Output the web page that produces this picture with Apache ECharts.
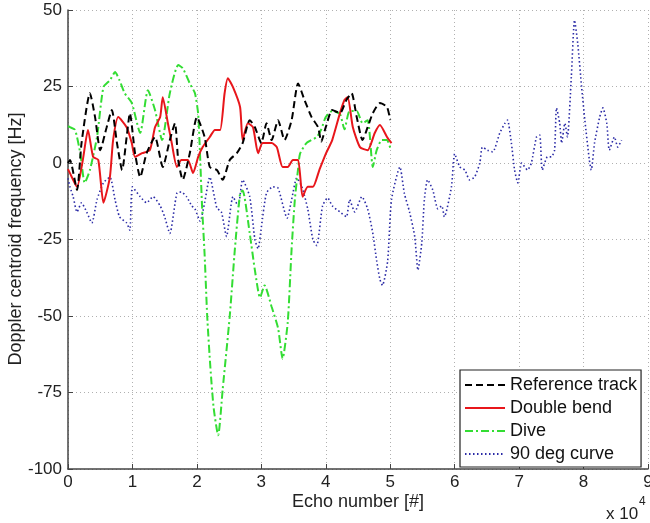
<!DOCTYPE html>
<html>
<head>
<meta charset="utf-8">
<script src="https://cdn.jsdelivr.net/npm/echarts@6/dist/echarts.min.js"></script>
<style>html,body{margin:0;padding:0;background:#fff}#c{width:650px;height:523px}</style>
</head>
<body>
<div id="c"></div>
<script>
// x values in units of 10^4 echoes, y in Hz
var seriesNames = ['Reference track', 'Double bend', 'Dive', '90 deg curve'];
var xTitle = 'Echo number [#]';
var yTitle = 'Doppler centroid frequency [Hz]';

var referenceTrack = [[0,0],[0.03,1],[0.14,-8.8],[0.21,6.5],[0.34,22.8],[0.42,15],[0.5,4.2],[0.6,11.7],[0.68,17.3],[0.76,6.5],[0.84,-2.3],[0.91,8.5],[0.96,16.3],[1.04,3.2],[1.12,-4.6],[1.22,3.2],[1.35,8.5],[1.47,-1.3],[1.58,7.5],[1.66,13],[1.71,1],[1.78,-5.5],[1.89,3.2],[2.0,15],[2.12,8.5],[2.2,-1.3],[2.31,-2.3],[2.4,-5.5],[2.51,1],[2.62,3.2],[2.71,6.5],[2.82,14],[2.9,11.7],[3.0,6.5],[3.08,13],[3.16,7.5],[3.26,14],[3.36,7.5],[3.47,14],[3.57,26],[3.67,20.6],[3.78,15],[3.88,11.7],[3.93,7],[4.0,11.7],[4.1,17.3],[4.22,16.3],[4.32,20.6],[4.4,22.8],[4.48,15],[4.57,7.5],[4.65,11.7],[4.73,16.3],[4.84,19.6],[4.95,18.3],[5.0,14]];

var doubleBend = [[0,-2],[0.03,-3.3],[0.14,-7.8],[0.23,1],[0.31,10.8],[0.39,2],[0.47,1],[0.55,-13],[0.65,-4.6],[0.7,7.5],[0.78,15],[0.91,11.7],[0.99,6.5],[1.04,2],[1.15,3.2],[1.27,4.2],[1.35,11.7],[1.43,15],[1.47,21.5],[1.55,13],[1.61,6.5],[1.69,-1.3],[1.76,1],[1.86,1],[1.94,-3.3],[2.02,2],[2.09,5.2],[2.2,8.5],[2.28,10.8],[2.36,10.8],[2.43,22.8],[2.48,27.7],[2.56,24.8],[2.67,18.3],[2.71,7.5],[2.79,13],[2.87,11.7],[2.95,3.2],[3.02,6.5],[3.16,6.5],[3.24,5.2],[3.33,-1.3],[3.41,-1.3],[3.49,1],[3.57,1],[3.64,-11],[3.72,-7.8],[3.8,-7.8],[3.9,-2.3],[4.0,3],[4.1,7.5],[4.22,16.3],[4.29,20.6],[4.34,21.5],[4.42,11.7],[4.53,5.2],[4.65,4.2],[4.76,9.8],[4.84,12.4],[4.95,8.5],[5.02,6.5]];

var dive = [[0,12],[0.03,11.7],[0.11,10.8],[0.19,3.2],[0.26,-6.5],[0.34,-2.3],[0.45,8.5],[0.55,24.8],[0.65,27],[0.73,29.7],[0.8,27],[0.88,22.8],[0.99,19.6],[1.12,9.8],[1.24,23.8],[1.35,17.3],[1.46,7.5],[1.58,22.8],[1.71,32],[1.78,31],[1.89,26],[1.97,22.8],[2.02,16],[2.05,2],[2.08,-14],[2.12,-30],[2.16,-50],[2.21,-67],[2.26,-80],[2.33,-89],[2.4,-74],[2.51,-50],[2.59,-28],[2.67,-10],[2.71,-9],[2.82,-23],[2.9,-35],[2.98,-44],[3.05,-40],[3.16,-47],[3.26,-54],[3.33,-64],[3.41,-52],[3.47,-28],[3.52,-12],[3.57,-2],[3.6,3],[3.7,6.5],[3.86,8.5],[3.93,11],[4.0,15],[4.1,17],[4.22,16],[4.29,11],[4.37,17],[4.48,17],[4.57,13],[4.65,14],[4.73,-1.3],[4.79,4.2],[4.87,7.5],[4.95,7.5],[5.0,5]];

var curve90 = [[0,-5],[0.03,-7.8],[0.08,-11],[0.14,-16],[0.21,-13],[0.29,-16],[0.37,-19.6],[0.45,-12],[0.55,-6.5],[0.65,-4.6],[0.73,-12],[0.8,-17.6],[0.91,-19.6],[0.96,-22],[1.0,-7.8],[1.12,-11],[1.22,-13],[1.32,-11],[1.43,-14],[1.5,-17.6],[1.58,-23],[1.69,-9.8],[1.76,-9.5],[1.84,-11],[1.92,-14],[1.97,-15],[2.05,-19],[2.12,-13],[2.2,-4.6],[2.31,-14.7],[2.38,-16],[2.46,-24],[2.56,-11],[2.64,-14],[2.71,-5.5],[2.82,-11],[2.9,-25],[2.95,-28],[3.0,-21],[3.08,-9.8],[3.18,-7.8],[3.26,-8.2],[3.4,-18],[3.47,-12],[3.55,-4.9],[3.63,-7.8],[3.72,-15],[3.8,-25],[3.86,-27],[3.95,-14],[4.03,-11.4],[4.1,-14],[4.22,-16],[4.32,-17.6],[4.37,-12],[4.45,-16],[4.56,-11],[4.65,-15],[4.73,-23],[4.79,-32],[4.84,-38],[4.88,-40],[4.96,-32],[5.02,-12],[5.15,-1.3],[5.22,-10],[5.3,-16],[5.38,-24],[5.43,-35],[5.49,-26],[5.53,-12],[5.58,-5.5],[5.66,-8.8],[5.74,-15],[5.8,-14],[5.84,-17.6],[5.95,-7.8],[6.0,3],[6.08,-1.3],[6.16,-2.3],[6.23,-5.5],[6.31,-4.6],[6.39,0],[6.43,5.2],[6.51,4.2],[6.59,3.6],[6.7,9.8],[6.78,13],[6.82,14],[6.88,6.5],[6.93,-2.3],[6.98,-6.5],[7.04,0],[7.13,-2.3],[7.19,0],[7.27,8.5],[7.32,9.1],[7.36,-2.3],[7.44,2],[7.5,2],[7.55,4.2],[7.58,18],[7.63,13],[7.66,6.5],[7.71,13],[7.75,8.5],[7.81,28],[7.86,46.7],[7.91,39],[7.97,24.8],[8.02,14],[8.09,1],[8.12,-2.3],[8.17,6.5],[8.25,15],[8.3,18],[8.36,13],[8.4,4.2],[8.48,8.5],[8.53,5.2],[8.59,7.5]];

var FONT = "'Liberation Sans', Arial, sans-serif";
var chart = echarts.init(document.getElementById('c'), null, {renderer: 'canvas'});

function lineSeries(name, data, color, type, width) {
  return {
    name: name, type: 'line', data: data, symbol: 'none', showSymbol: false,
    smooth: 0.2, animation: false,
    lineStyle: {color: color, width: width, type: type},
    itemStyle: {color: color}
  };
}

chart.setOption({
  animation: false,
  backgroundColor: '#fff',
  grid: {left: 68, right: 2, top: 10, bottom: 54, containLabel: false, outerBoundsMode: 'none'},
  xAxis: {
    type: 'value', min: 0, max: 9, interval: 1,
    axisLine: {show: true, onZero: false, lineStyle: {color: '#444', width: 1.5}},
    axisTick: {show: true, inside: true, length: 5, lineStyle: {color: '#444'}},
    axisLabel: {fontFamily: FONT, fontSize: 17, color: '#222', margin: 5},
    splitLine: {show: true, lineStyle: {color: '#b0b0b0', type: [1, 3], width: 1}}
  },
  yAxis: {
    type: 'value', min: -100, max: 50, interval: 25,
    axisLine: {show: true, onZero: false, lineStyle: {color: '#444', width: 1.5}},
    axisTick: {show: true, inside: true, length: 5, lineStyle: {color: '#444'}},
    axisLabel: {fontFamily: FONT, fontSize: 17, color: '#222', margin: 6},
    splitLine: {show: true, lineStyle: {color: '#b0b0b0', type: [1, 3], width: 1}}
  },
  legend: {
    data: seriesNames,
    orient: 'vertical', left: 460, top: 370,
    padding: [6, 4, 4, 4], itemGap: 5, itemWidth: 40, itemHeight: 14,
    backgroundColor: '#fff', borderColor: '#222', borderWidth: 1.2,
    itemStyle: {opacity: 0, borderWidth: 0},
    textStyle: {fontFamily: FONT, fontSize: 18, color: '#111', lineHeight: 17}
  },
  graphic: [
    {type: 'text', x: 16, y: 239, rotation: Math.PI / 2,
     style: {text: yTitle, fontFamily: FONT, fontSize: 18, fill: '#222',
             textAlign: 'center', textVerticalAlign: 'middle', align: 'center', verticalAlign: 'middle'}},
    {type: 'text', x: 358, y: 502,
     style: {text: xTitle, fontFamily: FONT, fontSize: 18, fill: '#222',
             textAlign: 'center', textVerticalAlign: 'middle', align: 'center', verticalAlign: 'middle'}},
    {type: 'text', left: 606, top: 506, style: {text: 'x 10', fontFamily: FONT, fontSize: 17, fill: '#222'}},
    {type: 'text', left: 639, top: 496, style: {text: '4', fontFamily: FONT, fontSize: 12, fill: '#222'}}
  ],
  series: [
    lineSeries(seriesNames[3], curve90, '#2a2aa6', [1.5, 2.5], 1.6),
    lineSeries(seriesNames[2], dive, '#33dd33', [8, 3, 2, 3], 2),
    lineSeries(seriesNames[1], doubleBend, '#e8161b', 'solid', 2),
    lineSeries(seriesNames[0], referenceTrack, '#000000', [7, 4], 2)
  ]
});
</script>
</body>
</html>
